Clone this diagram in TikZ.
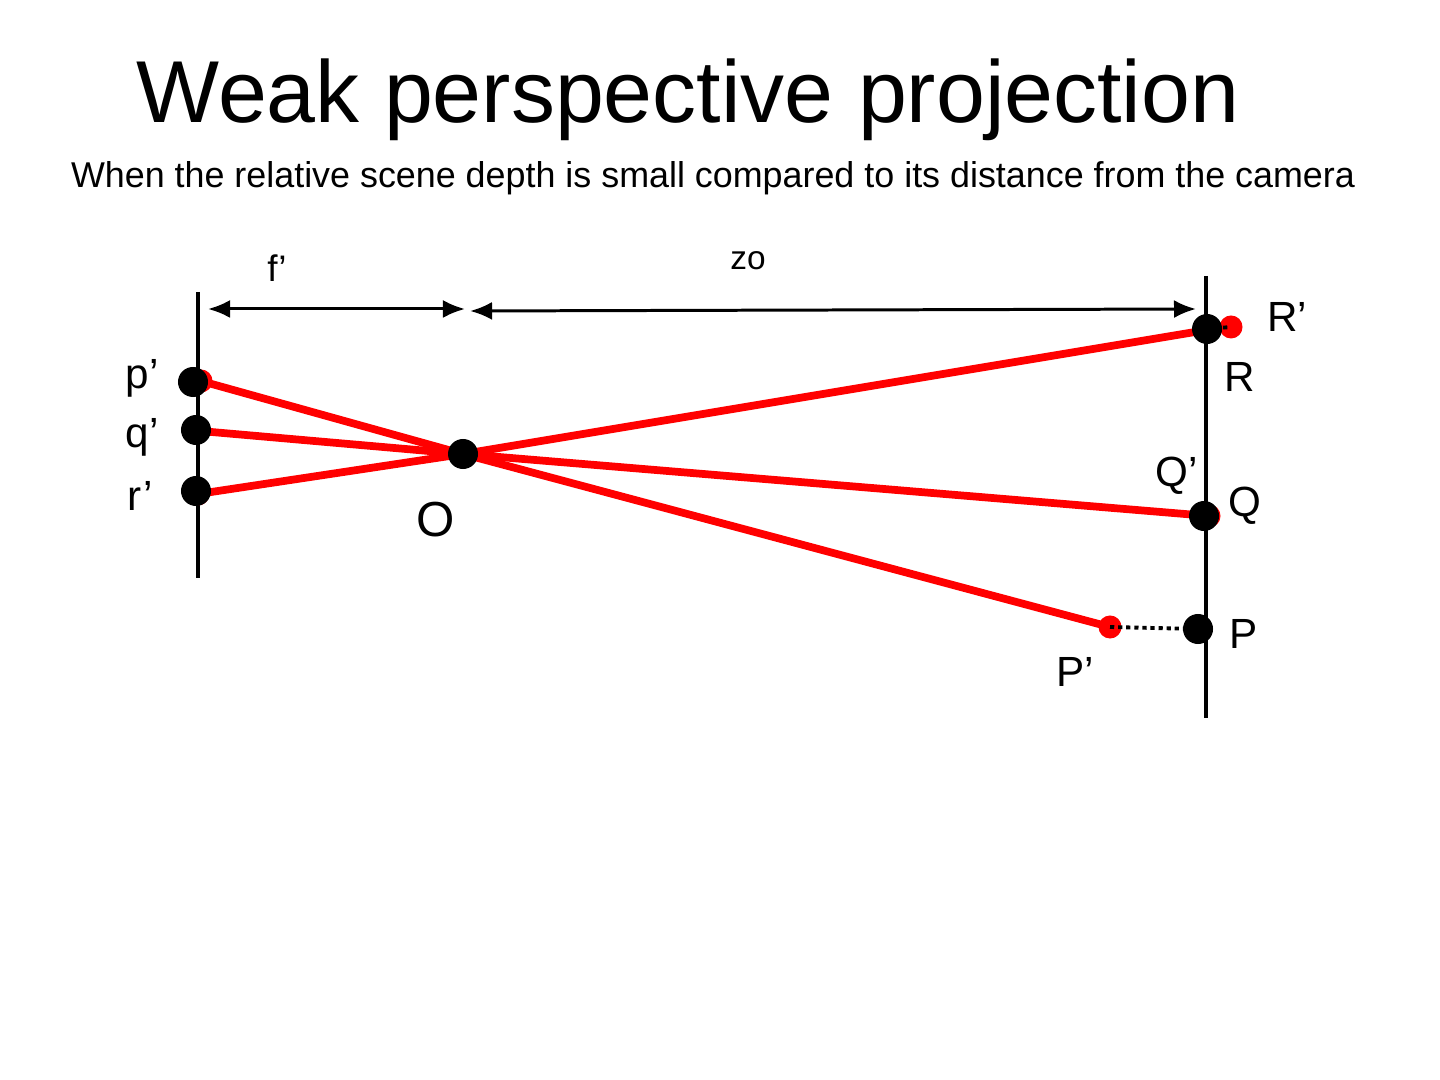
\documentclass[tikz,border=0pt]{standalone}
\usepackage{fontspec}
\setmainfont{Liberation Sans}
\usetikzlibrary{arrows.meta}

\begin{document}
\begin{tikzpicture}[
    x=0.01cm, y=-0.01cm,
    blackdot/.style={circle, fill=black, inner sep=0pt, minimum size=0.3cm},
    reddot/.style={circle, fill=red, inner sep=0pt, minimum size=0.23cm},
    ray/.style={red, line width=2.2pt},
    plane/.style={line width=0.9pt},
    dimline/.style={{Latex[length=2.2mm,width=1.8mm]}-{Latex[length=2.2mm,width=1.8mm]}, line width=0.85pt},
    proj/.style={dash pattern=on 1.2pt off 1.1pt, line width=1.1pt},
    lbl/.style={font=\fontsize{12}{14}\selectfont}
]
\useasboundingbox (0,0) rectangle (1440,1080);

% titles
\node[font=\fontsize{25}{30}\selectfont] (title) at (688,100) {Weak perspective projection};
\node[font=\fontsize{10.2}{12}\selectfont] (sub) at (713,178) {When the relative scene depth is small compared to its distance from the camera};

% image plane and object plane
\coordinate (imgtop) at (198,292);
\coordinate (imgbot) at (198,578);
\coordinate (objtop) at (1206,276);
\coordinate (objbot) at (1206,718);
\draw[plane] (imgtop) -- (imgbot);
\draw[plane] (objtop) -- (objbot);

% distances
\coordinate (fa) at (208,309);
\coordinate (fb) at (465,309);
\coordinate (za) at (470,311);
\coordinate (zb) at (1196,309);
\draw[dimline] (fa) -- (fb);
\draw[dimline] (za) -- (zb);
\node[font=\fontsize{10.5}{12}\selectfont] (flabel) at (277,268) {f’};
\node[font=\fontsize{9.5}{12}\selectfont] (zlabel) at (748,261) {zo};

% points
\node[reddot] (Rp) at (1231,327) {};
\node[reddot] (Qp) at (1209,516) {};
\node[reddot] (Pp) at (1110,627) {};
\node[reddot] (pr) at (201,381) {};
\node[reddot] (rr) at (198,494) {};

% rays through the centre
\draw[ray] (pr.center) -- (463,454) -- (Pp.center);
\draw[ray] (200,431) -- (463,454) -- (Qp.center);
\draw[ray] (rr.center) -- (463,454) -- (1207,330);

% projection to the average depth
\draw[proj] (Pp.center) -- (1198,629);
\draw[proj] (1207,329) -- (Rp.center);

\node[blackdot] (p) at (193,382) {};
\node[blackdot] (q) at (196,430) {};
\node[blackdot] (r) at (196,491) {};
\node[blackdot] (O) at (463,454) {};
\node[blackdot] (R) at (1207,329) {};
\node[blackdot] (Q) at (1204,516) {};
\node[blackdot] (P) at (1198,629) {};

% labels
\node[lbl] at (142,378) {p’};
\node[lbl] at (142,437) {q’};
\node[lbl] at (140,496) {r’};
\node[font=\fontsize{14}{16}\selectfont] at (436,520) {O};
\node[lbl] at (1287,317) {R’};
\node[lbl] at (1240,377) {R};
\node[lbl] at (1177,476) {Q’};
\node[lbl] at (1245,506) {Q};
\node[lbl] at (1244,634) {P};
\node[lbl] at (1075,672) {P’};

\end{tikzpicture}
\end{document}
